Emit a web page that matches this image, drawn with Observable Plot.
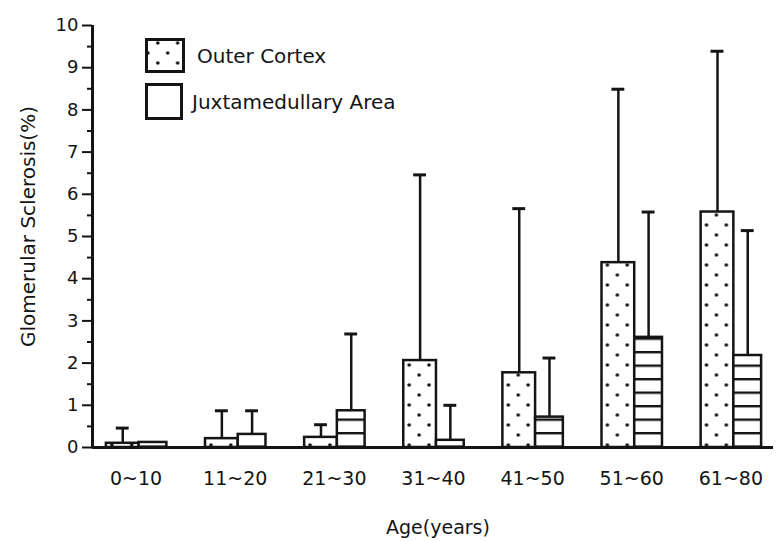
<!DOCTYPE html>
<html><head><meta charset="utf-8">
<script src="https://cdn.jsdelivr.net/npm/d3@7"></script>
<script src="https://cdn.jsdelivr.net/npm/@observablehq/plot@0.6"></script>
<style>
body{margin:0;background:#fff;}
#wrap{position:relative;width:781px;height:541px;font-family:"DejaVu Sans",sans-serif;color:#141414;}
#wrap svg.plot{position:absolute;left:0;top:0;}
.leg{position:absolute;display:flex;align-items:center;font-size:20px;white-space:nowrap;}
</style></head><body><div id="wrap"></div>
<script>
// ---- data ----
const groups = ["0~10", "11~20", "21~30", "31~40", "41~50", "51~60", "61~80"];
const seriesNames = ["Outer Cortex", "Juxtamedullary Area"];
const outerCortex = [0.10, 0.21, 0.24, 2.06, 1.77, 4.38, 5.58];
const outerCortexUpper = [0.46, 0.87, 0.54, 6.46, 5.66, 8.49, 9.39];
const juxtamedullary = [0.12, 0.31, 0.87, 0.17, 0.72, 2.61, 2.18];
const juxtamedullaryUpper = [null, 0.87, 2.69, 1.00, 2.12, 5.58, 5.14];
const yTicks = [0, 1, 2, 3, 4, 5, 6, 7, 8, 9, 10];
const yMinorTicks = [0.5, 1.5, 2.5, 3.5, 4.5, 5.5, 6.5, 7.5, 8.5, 9.5];
const yLabel = "Glomerular Sclerosis(%)";
const xLabel = "Age(years)";

// ---- layout / style ----
const xDomain = [-0.44, 6.43];
const slot = {"Outer Cortex": [-0.30, 0.03], "Juxtamedullary Area": [0.03, 0.31]};
const fills = {"Outer Cortex": "url(#dots)", "Juxtamedullary Area": "url(#hlines)"};
const ink = "#141414";

const bars = groups.flatMap((g, i) => [
  {i, group: g, series: seriesNames[0], value: outerCortex[i], upper: outerCortexUpper[i]},
  {i, group: g, series: seriesNames[1], value: juxtamedullary[i], upper: juxtamedullaryUpper[i]}
]);
const withErr = bars.filter(d => d.upper != null);
const x1 = d => d.i + slot[d.series][0];
const x2 = d => d.i + slot[d.series][1];
const xc = d => (x1(d) + x2(d)) / 2;

const plot = Plot.plot({
  width: 781, height: 541,
  marginLeft: 92, marginRight: 8, marginTop: 25, marginBottom: 94,
  style: {fontFamily: "DejaVu Sans, sans-serif", fontSize: "18px", color: ink, background: "white", overflow: "visible"},
  x: {domain: xDomain, axis: null},
  y: {domain: [0, 10], axis: null},
  color: {type: "identity"},
  marks: [
    Plot.rectY(bars, {x1, x2, y: "value", fill: d => fills[d.series], stroke: ink, strokeWidth: 2.5}),
    Plot.ruleX(withErr, {x: xc, y1: "value", y2: "upper", stroke: ink, strokeWidth: 2.5}),
    Plot.ruleY(withErr, {y: "upper", x1: d => xc(d) - 0.065, x2: d => xc(d) + 0.065, stroke: ink, strokeWidth: 3}),
    Plot.ruleY([0], {stroke: ink, strokeWidth: 3}),
    Plot.ruleX([xDomain[0]], {stroke: ink, strokeWidth: 3}),
    Plot.axisY(yTicks, {tickSize: 10, tickPadding: 4, strokeWidth: 2, fontSize: 18, label: null}),
    Plot.axisY(yMinorTicks, {tickSize: 5, strokeWidth: 2, tickFormat: () => "", label: null}),
    Plot.axisX(d3.range(groups.length), {tickSize: 0, tickPadding: 24, tickFormat: i => groups[i], fontSize: 19, label: null}),
    Plot.text([yLabel], {text: d => d, frameAnchor: "left", textAnchor: "middle", lineAnchor: "middle", rotate: -90, dx: -64, dy: -10, fontSize: 20}),
    Plot.text([xLabel], {text: d => d, frameAnchor: "bottom", textAnchor: "middle", lineAnchor: "middle", dx: 5, dy: 80, fontSize: 19})
  ]
});
plot.classList.add("plot");
d3.select(plot).insert("defs", ":first-child").html(`
  <pattern id="dots" patternUnits="userSpaceOnUse" x="0" y="0" width="19.82" height="20">
    <rect width="19.82" height="20" fill="white"/>
    <circle cx="12.8" cy="5" r="1.8" fill="${ink}"/>
    <circle cx="2.9" cy="15" r="1.8" fill="${ink}"/>
  </pattern>
  <pattern id="hlines" patternUnits="userSpaceOnUse" width="20" height="13.5">
    <rect width="20" height="13.5" fill="white"/>
    <line x1="0" x2="20" y1="1.2" y2="1.2" stroke="${ink}" stroke-width="2.4"/>
  </pattern>`);

const wrap = document.getElementById("wrap");
wrap.appendChild(plot);

const legendItems = [
  {name: seriesNames[0], fill: "url(#dots)", left: 145, top: 38, w: 40, h: 35, gap: 12},
  {name: seriesNames[1], fill: "white", left: 145, top: 83, w: 38, h: 37, gap: 9}
];
for (const it of legendItems) {
  const div = document.createElement("div");
  div.className = "leg";
  div.style.left = it.left + "px";
  div.style.top = it.top + "px";
  div.innerHTML = `<svg width="${it.w}" height="${it.h}"><rect x="1.5" y="1.5" width="${it.w - 3}" height="${it.h - 3}" fill="${it.fill}" stroke="${ink}" stroke-width="3"/></svg><span style="margin-left:${it.gap}px">${it.name}</span>`;
  wrap.appendChild(div);
}
</script></body></html>
